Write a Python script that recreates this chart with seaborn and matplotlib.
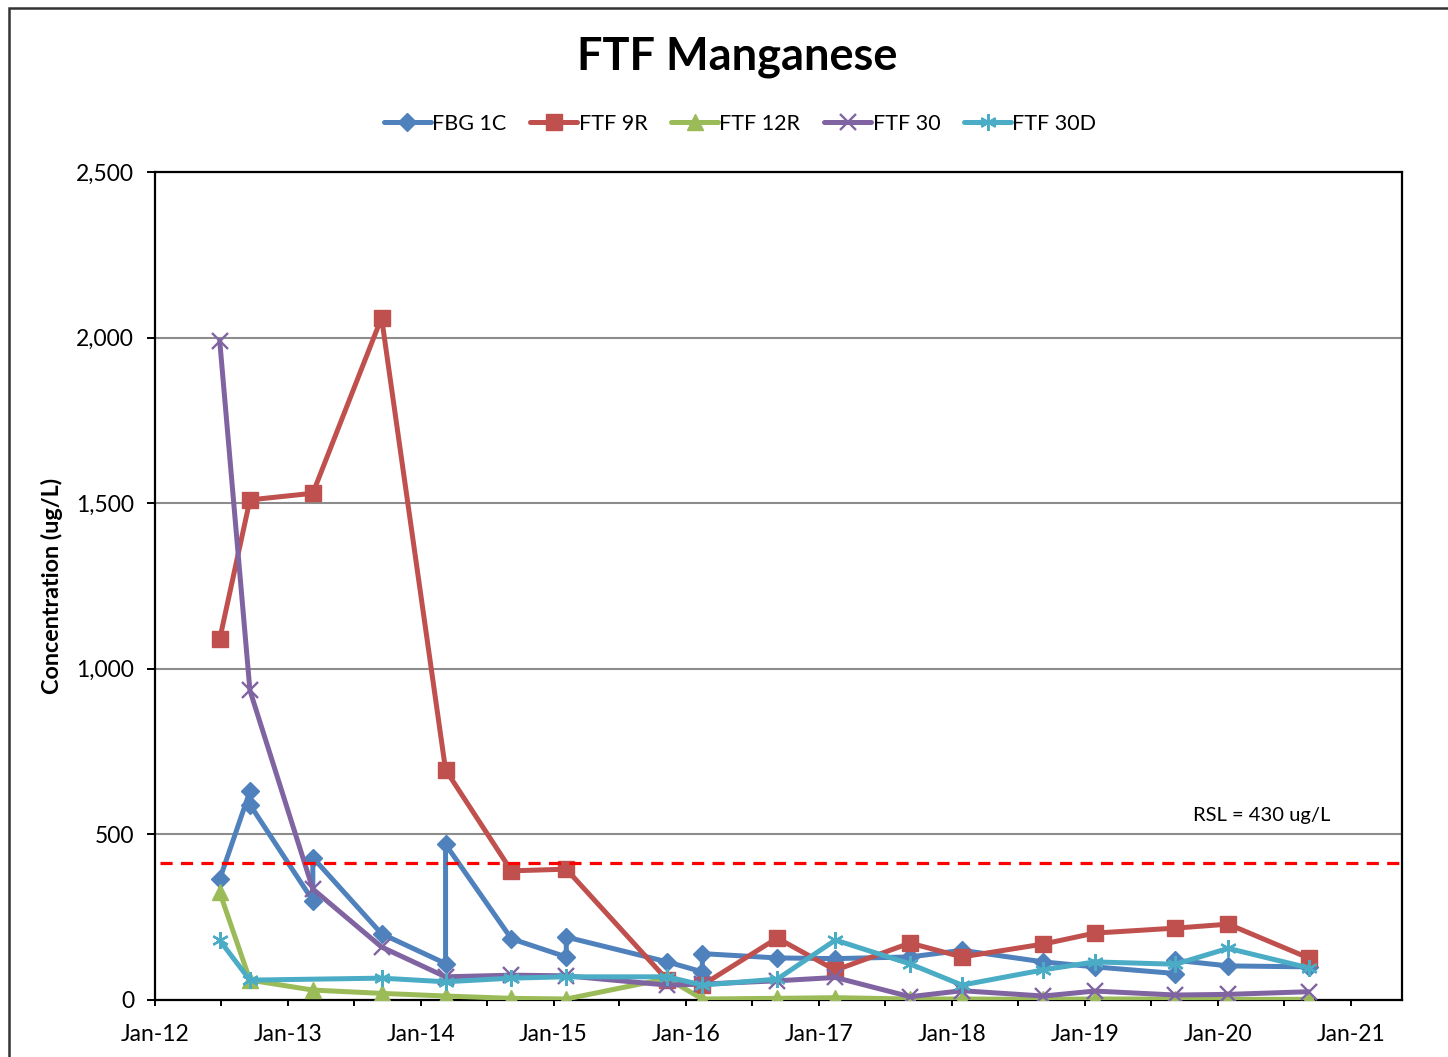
import matplotlib
matplotlib.use("Agg")
import matplotlib.pyplot as plt
import matplotlib.dates as mdates
from matplotlib.ticker import FuncFormatter
from matplotlib.patches import Rectangle
import seaborn as sns
import pandas as pd

# ---------------- data ----------------
fbg1c_dates = ["2012-06-27", "2012-09-18", "2012-09-18", "2013-03-10", "2013-03-10",
               "2013-09-15", "2014-03-10", "2014-03-10", "2014-09-07", "2015-02-05",
               "2015-02-05", "2015-11-10", "2016-02-14", "2016-02-14", "2016-09-07",
               "2017-02-14", "2017-09-07", "2018-01-28", "2018-09-09", "2019-01-28",
               "2019-09-07", "2019-09-07", "2020-01-30", "2020-09-07"]
fbg1c_vals = [365, 630, 590, 300, 430, 200, 110, 470, 185, 130,
              190, 115, 85, 140, 127, 125, 130, 150, 115, 100,
              80, 120, 103, 100]

main_dates = ["2012-06-27", "2012-09-18", "2013-03-10", "2013-09-15", "2014-03-10",
              "2014-09-07", "2015-02-05", "2015-11-10", "2016-02-14", "2016-09-07",
              "2017-02-14", "2017-09-07", "2018-01-28", "2018-09-09", "2019-01-28",
              "2019-09-07", "2020-01-30", "2020-09-07"]
ftf9r_vals = [1090, 1510, 1530, 2060, 695, 390, 395, 60, 45, 187,
              90, 172, 130, 169, 202, 217, 229, 127]
ftf12r_vals = [325, 60, 30, 20, 12, 5, 3, 65, 3, 5,
               7, 3, 3, 2, 3, 3, 2, 2]
ftf30_vals = [1990, 935, 335, 160, 70, 75, 73, 45, 48, 58,
              68, 10, 28, 12, 27, 15, 17, 25]

ftf30d_dates = ["2012-06-27", "2012-09-18", "2013-09-15", "2014-03-10",
                "2014-09-07", "2015-02-05", "2015-11-10", "2016-02-14", "2016-09-07",
                "2017-02-14", "2017-09-07", "2018-01-28", "2018-09-09", "2019-01-28",
                "2019-09-07", "2020-01-30", "2020-09-07"]
ftf30d_vals = [180, 60, 66, 55, 66, 70, 70, 45, 63, 181,
               109, 45, 91, 115, 108, 156, 97]

series_names = ["FBG 1C", "FTF 9R", "FTF 12R", "FTF 30", "FTF 30D"]
series_colors = ["#4F81BD", "#C0504D", "#9BBB59", "#8064A2", "#4BACC6"]

rsl_line_level = 415
rsl_label = "RSL = 430 ug/L"
title_text = "FTF Manganese"
ylabel_text = "Concentration (ug/L)"

y_ticks = [0, 500, 1000, 1500, 2000, 2500]
x_start, x_end = "2012-01-01", "2021-05-22"

# ---------------- build frame ----------------
frames = []
for name, d, v in [("FBG 1C", fbg1c_dates, fbg1c_vals),
                   ("FTF 9R", main_dates, ftf9r_vals),
                   ("FTF 12R", main_dates, ftf12r_vals),
                   ("FTF 30", main_dates, ftf30_vals),
                   ("FTF 30D", ftf30d_dates, ftf30d_vals)]:
    frames.append(pd.DataFrame({"date": pd.to_datetime(d), "value": v, "series": name}))
df = pd.concat(frames, ignore_index=True)

# ---------------- style ----------------
sns.set_style("white")
plt.rcParams["font.family"] = ["Lato", "DejaVu Sans"]
plt.rcParams["text.color"] = "black"
plt.rcParams["axes.labelcolor"] = "black"
plt.rcParams["xtick.color"] = "black"
plt.rcParams["ytick.color"] = "black"

W, H = 1448, 1057
fig = plt.figure(figsize=(W / 100, H / 100), dpi=100)
ax = fig.add_axes([155 / W, 1 - 1000 / H, (1402 - 155) / W, (1000 - 172) / H])

marker_specs = {
    "FBG 1C": dict(marker="D", markersize=8.8, markeredgewidth=1),
    "FTF 9R": dict(marker="s", markersize=11, markeredgewidth=1),
    "FTF 12R": dict(marker="^", markersize=11.5, markeredgewidth=1),
    "FTF 30": dict(marker="x", markersize=11, markeredgewidth=1.7),
    "FTF 30D": dict(marker=(6, 2, 0), markersize=12, markeredgewidth=1.7),
}

for i, (name, col) in enumerate(zip(series_names, series_colors)):
    sub = df[df["series"] == name]
    spec = marker_specs[name]
    sns.lineplot(data=sub, x="date", y="value", ax=ax, sort=False, estimator=None,
                 color=col, linewidth=3.6, label=name,
                 markerfacecolor=col, markeredgecolor=col, zorder=3 + i, **spec)

# RSL line
ax.axhline(rsl_line_level, xmin=0.004, xmax=1.003, color="#FF0000", lw=2.3,
           linestyle=(0, (3.8, 2.6)), zorder=10, clip_on=False)
ax.text((1262 - 155) / (1402 - 155), (1000 - 816) / (1000 - 172), rsl_label,
        transform=ax.transAxes, ha="center", va="center", fontsize=14.5, color="black")

# axes
ax.set_xlim(pd.Timestamp(x_start), pd.Timestamp(x_end))
ax.set_ylim(y_ticks[0], y_ticks[-1])
ax.set_yticks(y_ticks)
ax.yaxis.set_major_formatter(FuncFormatter(lambda v, p: f"{int(v):,}"))
ax.xaxis.set_major_locator(mdates.YearLocator())
ax.xaxis.set_minor_locator(mdates.MonthLocator(bymonth=7))
ax.xaxis.set_major_formatter(mdates.DateFormatter("%b-%y"))
ax.set_xlabel("")
ax.set_ylabel("")

ax.yaxis.grid(True, color="#8C8C8C", linewidth=1.5, zorder=0)
ax.xaxis.grid(False)
ax.set_axisbelow(True)
for s in ax.spines.values():
    s.set_visible(True)
    s.set_color("black")
    s.set_linewidth(1.6)

ax.tick_params(axis="y", which="major", direction="out", length=6, width=1.4,
               color="black", labelsize=16.5, pad=9, left=True, labelcolor="black")
ax.tick_params(axis="x", which="both", direction="out", length=4.5, width=1.4,
               color="black", labelsize=16.5, pad=13, bottom=True, labelcolor="black")

# legend
leg = ax.legend(loc="center", bbox_to_anchor=(740 / W, 1 - 124 / H),
                bbox_transform=fig.transFigure, ncol=5, frameon=False,
                fontsize=15.5, handlelength=2.2, handletextpad=0.05,
                columnspacing=1.1, markerscale=1.0)
for t in leg.get_texts():
    t.set_color("black")

# title and y-label
fig.text(737 / W, 1 - 57 / H, title_text, ha="center", va="center",
         fontsize=32.5, fontweight="bold", color="black")
fig.text(52 / W, 1 - 586 / H, ylabel_text, ha="center", va="center",
         rotation=90, fontsize=16.8, fontweight="bold", color="black")

# outer chart border (left & top visible)
fig.patches.append(Rectangle((9 / W, -0.05), 1.2, (1 - 8 / H) + 0.05,
                             transform=fig.transFigure, fill=False,
                             edgecolor="#333333", linewidth=1.8, zorder=0))

fig.savefig("out.png", dpi=100, facecolor="white")
